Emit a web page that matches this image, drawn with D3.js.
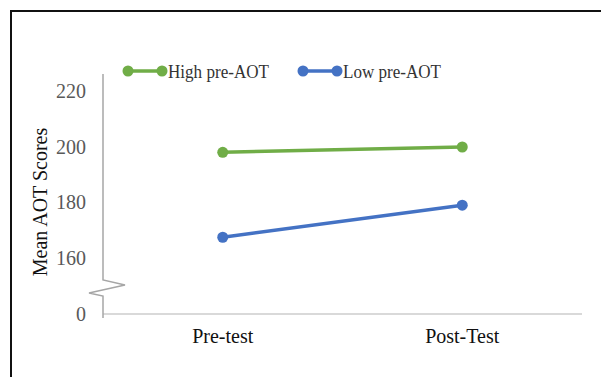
<!DOCTYPE html>
<html><head><meta charset="utf-8">
<script src="https://cdn.jsdelivr.net/npm/d3@7"></script>
<style>body{margin:0;background:#fff}svg{display:block}</style>
</head><body>
<svg id="c" width="601" height="377"></svg>
<script>
const categories = ["Pre-test", "Post-Test"];
const seriesNames = ["High pre-AOT", "Low pre-AOT"];
const highValues = [198, 199.9];
const lowValues = [167.5, 179];
const yTicks = [0, 160, 180, 200, 220];
const colors = ["#70ad47", "#4472c4"];

const svg = d3.select("#c");
const font = "'Liberation Serif','Times New Roman',serif";

// outer frame
svg.append("rect").attr("x", 11).attr("y", 11).attr("width", 620).attr("height", 400)
  .attr("fill", "none").attr("stroke", "#111").attr("stroke-width", 2);

const x = d3.scalePoint().domain(categories).range([103, 582]).padding(0.5);
const y = d3.scaleLinear().domain([0, 150, 220]).range([314, 286, 91]);

// x axis line
svg.append("line").attr("x1", 103).attr("x2", 582).attr("y1", y(0)).attr("y2", y(0))
  .attr("stroke", "#d9d9d9").attr("stroke-width", 2);

// y axis with break
const ax = 103;
const p = d3.path();
p.moveTo(ax, 74); p.lineTo(ax, 280);
p.lineTo(125, 285); p.lineTo(89, 293); p.lineTo(ax, 296);
p.lineTo(ax, 318);
svg.append("path").attr("d", p.toString()).attr("fill", "none")
  .attr("stroke", "#a6a6a6").attr("stroke-width", 1.5);

// y tick labels
svg.append("g").selectAll("text").data(yTicks).join("text")
  .attr("x", 86).attr("y", d => y(d)).attr("dy", "0.35em")
  .attr("text-anchor", "end").attr("font-family", font).attr("font-size", 20)
  .attr("fill", "#595959").text(d => d);

// x labels
svg.append("g").selectAll("text").data(categories).join("text")
  .attr("x", d => x(d)).attr("y", 343).attr("text-anchor", "middle")
  .attr("font-family", font).attr("font-size", 20).attr("fill", "#111").text(d => d);

// y title
svg.append("text").attr("transform", "translate(47,202) rotate(-90)")
  .attr("text-anchor", "middle").attr("font-family", font).attr("font-size", 20)
  .attr("fill", "#111").text("Mean AOT Scores");

// series
const series = [highValues, lowValues];
const line = d3.line().x((d, i) => x(categories[i])).y(d => y(d));
series.forEach((vals, si) => {
  svg.append("path").datum(vals).attr("d", line).attr("fill", "none")
    .attr("stroke", colors[si]).attr("stroke-width", 3.5);
  svg.append("g").selectAll("circle").data(vals).join("circle")
    .attr("cx", (d, i) => x(categories[i])).attr("cy", d => y(d)).attr("r", 5.5)
    .attr("fill", colors[si]);
});

// legend
const legX = [128, 303];
const legW = [101, 98];
seriesNames.forEach((name, i) => {
  const g = svg.append("g");
  g.append("line").attr("x1", legX[i]).attr("x2", legX[i] + 34).attr("y1", 71).attr("y2", 71)
    .attr("stroke", colors[i]).attr("stroke-width", 3.5);
  g.append("circle").attr("cx", legX[i]).attr("cy", 71).attr("r", 5.5).attr("fill", colors[i]);
  g.append("circle").attr("cx", legX[i] + 34).attr("cy", 71).attr("r", 5.5).attr("fill", colors[i]);
  g.append("text").attr("x", legX[i] + 40).attr("y", 71).attr("dy", "0.35em")
    .attr("font-family", font).attr("font-size", 19).attr("fill", "#333")
    .attr("textLength", legW[i]).attr("lengthAdjust", "spacingAndGlyphs").text(name);
});
</script>
</body></html>
